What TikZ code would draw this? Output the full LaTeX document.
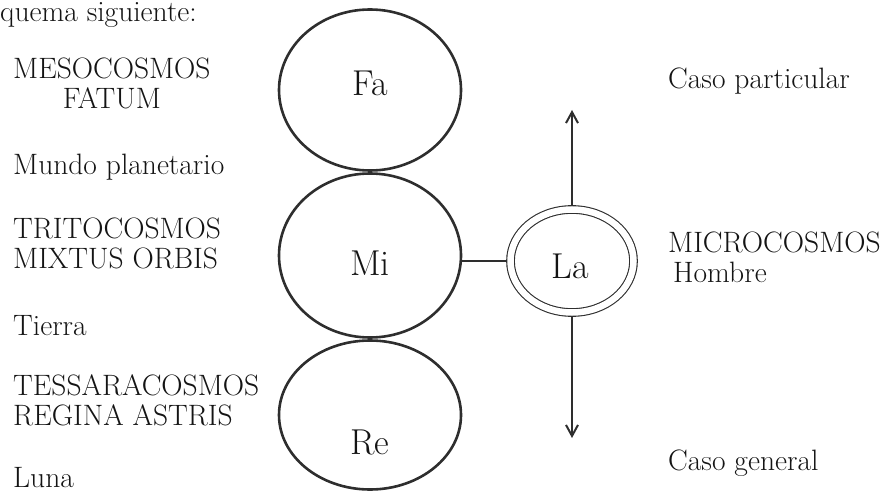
\documentclass[tikz,border=0pt]{standalone}
\usepackage{tikz}
\usetikzlibrary{arrows.meta,positioning,calc,shapes.geometric}
\definecolor{SkInk}{HTML}{2E2E2E}
\definecolor{SkText}{HTML}{141414}
\tikzset{
  sphere/.style={ellipse,draw=SkInk,line width=2.6pt,inner sep=0pt,
                 minimum width=182pt,minimum height=161pt},
  ring/.style={ellipse,draw=SkInk,double,double distance=6.5pt,line width=1.1pt,
               minimum width=123pt,minimum height=103pt,inner sep=0pt,outer sep=4.4pt,
               text=SkText,font=\fontsize{36}{42}\selectfont},
  syllable/.style={text=SkText,font=\fontsize{36}{42}\selectfont,inner sep=0pt},
  tie/.style={SkInk,line width=1.3pt},
  pointer/.style={-{Straight Barb[length=11pt,width=12pt]},SkInk,line width=2pt},
  caption/.style={text=SkText,font=\fontsize{29.5}{30}\selectfont,anchor=base west,
                  inner sep=0pt,align=left},
}
\begin{document}
\begin{tikzpicture}[x=1pt,y=1pt]
    \useasboundingbox (0,0) rectangle (882,-494);

    % the three spheres
    \node[sphere,label={[syllable,yshift=7pt]center:Fa}] (fa) at (370,-90) {};
    \node[sphere,minimum height=164pt,label={[syllable,yshift=-8pt]center:Mi}] (mi) at (370,-255.5) {};
    \node[sphere,minimum height=149pt,label={[syllable,yshift=-27pt]center:Re}] (re) at (370,-415) {};

    \node[ring,label={[syllable,xshift=-2pt,yshift=-5pt]center:La}] (la) at (572,-261) {};
    \coordinate (tipup) at (572,-110);
    \coordinate (tipdn) at (572,-438);

    \draw[tie] (la.west) -- (la.west -| mi.east);
    \draw[pointer] (la.north) -- (la.north |- tipup);
    \draw[pointer] (la.south) -- (la.south |- tipdn);

    % left column
    \node[caption] (head) at (0,-22) {quema siguiente:};
    \node[caption,align=center] (meso) at (13,-109) {MESOCOSMOS\\FATUM};
    \node[caption] (mundo) at (13,-175) {Mundo planetario};
    \node[caption] (trito) at (13,-268) {TRITOCOSMOS\\MIXTUS ORBIS};
    \node[caption] (tierra) at (13,-335) {Tierra};
    \node[caption] (tessa) at (13,-425) {TESSARACOSMOS\\REGINA ASTRIS};
    \node[caption] (luna) at (13,-487) {Luna};

    % right column
    \node[caption] (part) at (668,-89) {Caso particular};
    \node[caption] (micro) at (668,-282) {MICROCOSMOS\\\hspace{5pt}Hombre};
    \node[caption] (gen) at (668,-470) {Caso general};
  \end{tikzpicture}
\end{document}
